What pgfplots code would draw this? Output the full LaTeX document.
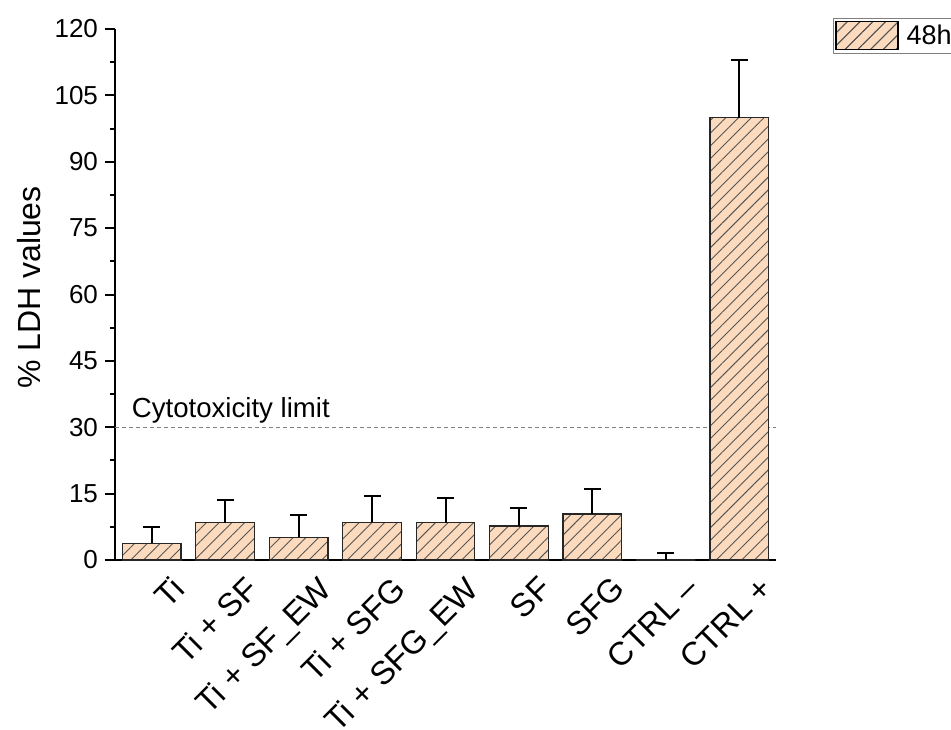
\documentclass[border=0pt]{standalone}
\usepackage{pgfplots}
\pgfplotsset{compat=1.18}
\usetikzlibrary{patterns.meta}
\usepackage{fontspec}
\setmainfont{Liberation Sans}
\definecolor{peach}{RGB}{251,218,189}
\definecolor{hatch}{RGB}{85,85,85}
\tikzset{hatched/.style={fill=peach, postaction={pattern={Lines[angle=45,distance=4.5pt,line width=0.45pt]}, pattern color=hatch}}}
\pgfplotstableread{
x y e
0 3.8 3.6
1 8.4 5.1
2 5.1 5.0
3 8.5 6.0
4 8.4 5.65
5 7.7 4.0
6 10.4 5.7
7 0 1.6
8 100 13
}\ldhdata
\begin{document}
\begin{tikzpicture}[x=1pt,y=1pt]
\begin{axis}[
  at={(0,0)}, anchor=south west,
  scale only axis, width=330.5pt, height=265.5pt,
  xmin=-0.5, xmax=8.5, ymin=0, ymax=120,
  axis x line*=bottom, axis y line*=left,
  axis line style={line width=1pt},
  ytick={0,15,...,120}, minor y tick num=1,
  xtick={0,...,8},
  xticklabels={Ti, Ti + SF, Ti + SF\_EW, Ti + SFG, Ti + SFG\_EW, SF, SFG, CTRL –, CTRL +},
  x tick label style={rotate=45, anchor=north east, inner sep=0pt, font=\fontsize{16.3}{19}\selectfont, xshift=5pt, yshift=-8pt},
  xtick style={draw=none},
  tick align=outside, major tick length=5pt, minor tick length=2.5pt,
  ytick style={line width=1pt, black},
  y tick label style={font=\fontsize{13}{15}\selectfont},
  /pgf/number format/assume math mode=true,
  ylabel={\% LDH values},
  ylabel style={font=\fontsize{16}{19}\selectfont, at={(axis description cs:-0.13,0.513)}, anchor=center},
  legend style={at={(axis description cs:1.0862,1.0207)}, anchor=north west, draw=gray, line width=0.5pt, font=\fontsize{13.5}{16}\selectfont, inner sep=1pt},
  legend image code/.code={\draw[hatched, draw=black, line width=0.6pt] (0pt,-7pt) rectangle (31pt,7pt); \path (33pt,0pt);},
]
\addplot[gray, dash pattern=on 2pt off 1.5pt, line width=0.5pt, forget plot] coordinates {(-0.5,30) (8.5,30)};
\addplot[ybar, bar width=0.8, hatched, draw=black!85, line width=0.6pt,
  error bars/.cd, y dir=plus, y explicit,
  error bar style={line width=1pt, black, solid},
  error mark options={rotate=90, line width=1pt, mark size=4.25pt, black}]
  table[x=x, y=y, y error=e] {\ldhdata};
\addlegendentry{48h}
\node[anchor=base west, inner sep=0pt, font=\fontsize{13.8}{16}\selectfont] at (axis cs:-0.275,32.3) {Cytotoxicity limit};
\end{axis}
\pgfresetboundingbox
\useasboundingbox (-57.5,-84.5) rectangle (418,280);
\end{tikzpicture}
\end{document}
